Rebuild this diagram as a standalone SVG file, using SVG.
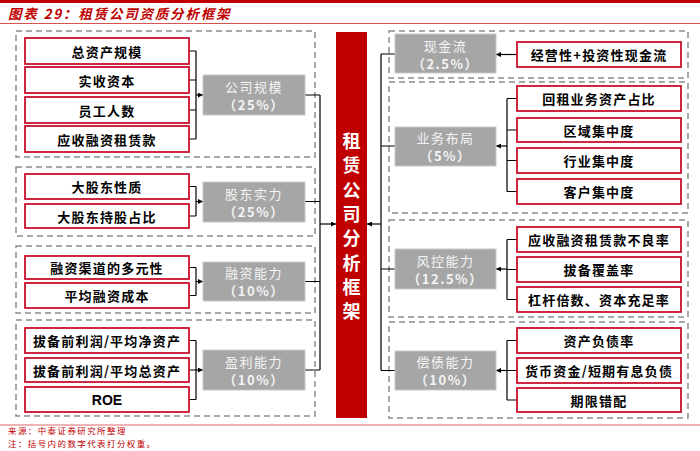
<svg xmlns="http://www.w3.org/2000/svg" width="700" height="451" viewBox="0 0 700 451">
<defs>
<marker id="ah" viewBox="0 0 6 6" refX="6" refY="3" markerWidth="5" markerHeight="5" orient="auto" markerUnits="userSpaceOnUse">
<path d="M0,0 L6,3 L0,6 z" fill="#000"/>
</marker>
<style>
.dash{fill:none;stroke:#8c8c8c;stroke-width:1.5;stroke-dasharray:6 4}
.rb{fill:#fff;stroke:#c8102e;stroke-width:1.8}
.gb{fill:#a6a6a6;stroke:#c9c9c9;stroke-width:1}
.t{font-family:"Noto Sans CJK SC","Noto Sans",sans-serif;font-size:13px;font-weight:bold;fill:#000;text-anchor:middle;dominant-baseline:central;letter-spacing:1.2px}
.g{font-family:"Noto Sans CJK SC","Noto Sans",sans-serif;font-size:13px;fill:#f4f4f4;text-anchor:middle;dominant-baseline:central;letter-spacing:1.5px}
.gp{font-weight:bold}
.ln{fill:none;stroke:#000;stroke-width:1.2}
.ar{fill:none;stroke:#000;stroke-width:1.2;marker-end:url(#ah)}
.c{font-family:"Noto Sans CJK SC",sans-serif;font-size:18px;font-weight:bold;fill:#fff;text-anchor:middle;dominant-baseline:central}
.ft{font-family:"Noto Sans CJK SC",sans-serif;font-size:8.5px;fill:#c00000;letter-spacing:1.4px}
</style>
</defs>
<rect x="0" y="0" width="700" height="451" fill="#fff"/>
<!-- header -->
<rect x="0" y="0" width="700" height="3" fill="#c00000"/>
<text x="8" y="19" font-family="'Noto Sans CJK SC',sans-serif" font-size="13.5" font-weight="bold" font-style="italic" fill="#c00000" letter-spacing="1.8">图表 29：租赁公司资质分析框架</text>
<line x1="0" y1="23.5" x2="700" y2="23.5" stroke="#d9534f" stroke-width="1"/>

<!-- dashed groups -->
<g id="groups">
<rect class="dash" x="16" y="31" width="299" height="126"/>
<rect class="dash" x="16" y="167" width="299" height="69"/>
<rect class="dash" x="16" y="246" width="299" height="67"/>
<rect class="dash" x="16" y="320" width="299" height="96"/>
<rect class="dash" x="389" y="31" width="299" height="47"/>
<rect class="dash" x="389" y="82" width="299" height="131"/>
<rect class="dash" x="389" y="220" width="299" height="97"/>
<rect class="dash" x="389" y="322" width="299" height="96"/>
</g>

<!-- connectors -->
<g id="connectors">
<path class="ln" d="M189,51 H196 M189,80 H196 M189,110 H196 M189,139 H196 M196,51 V139"/>
<path class="ar" d="M196,95 H203"/>
<path class="ln" d="M189,186.5 H196 M189,216 H196 M196,186.5 V216"/>
<path class="ar" d="M196,201.5 H203"/>
<path class="ln" d="M189,267.5 H196 M189,295.5 H196 M196,267.5 V295.5"/>
<path class="ar" d="M196,281.5 H203"/>
<path class="ln" d="M189,340.5 H196 M189,370 H196 M189,399.5 H196 M196,340.5 V399.5"/>
<path class="ar" d="M196,370 H203"/>
<path class="ln" d="M305,95 H320 M305,201.5 H320 M305,281.5 H320 M305,370 H320 M320,95 V370"/>
<path class="ar" d="M320,224 H336"/>
<path class="ln" d="M395,54 H381 M395,146 H381 M395,269 H381 M395,370.5 H381 M381,54 V370.5"/>
<path class="ar" d="M381,224 H367"/>
<path class="ar" d="M517,54.5 H496"/>
<path class="ln" d="M517,98.5 H507 M517,130 H507 M517,160.5 H507 M517,191.5 H507 M507,98.5 V191.5"/>
<path class="ar" d="M507,146 H496"/>
<path class="ln" d="M517,239.5 H507 M517,269.5 H507 M517,299.5 H507 M507,239.5 V299.5"/>
<path class="ar" d="M507,269 H496"/>
<path class="ln" d="M517,340.5 H507 M517,370.5 H507 M517,400 H507 M507,340.5 V400"/>
<path class="ar" d="M507,370.5 H496"/>
</g>

<!-- center -->
<g id="center">
<rect x="336" y="32" width="31" height="386" fill="#c00000"/>
<text class="c" x="351.5" y="140">租</text>
<text class="c" x="351.5" y="164">赁</text>
<text class="c" x="351.5" y="189">公</text>
<text class="c" x="351.5" y="213">司</text>
<text class="c" x="351.5" y="237">分</text>
<text class="c" x="351.5" y="262">析</text>
<text class="c" x="351.5" y="286">框</text>
<text class="c" x="351.5" y="310">架</text>
</g>

<!-- left nodes -->
<g id="n-zongzichan"><rect class="rb" x="25" y="38" width="164" height="26"/><text class="t" x="107" y="51">总资产规模</text></g>
<g id="n-shishou"><rect class="rb" x="25" y="67" width="164" height="26"/><text class="t" x="107" y="80">实收资本</text></g>
<g id="n-yuangong"><rect class="rb" x="25" y="97" width="164" height="26"/><text class="t" x="107" y="110">员工人数</text></g>
<g id="n-yingshou"><rect class="rb" x="25" y="126" width="164" height="26"/><text class="t" x="107" y="139">应收融资租赁款</text></g>
<g id="n-gongsiguimo"><rect class="gb" x="203" y="75" width="102" height="40"/><text class="g" x="254" y="86">公司规模</text><text class="g gp" x="254" y="104">（25%）</text></g>

<g id="n-xingzhi"><rect class="rb" x="25" y="174" width="164" height="25"/><text class="t" x="107" y="186.5">大股东性质</text></g>
<g id="n-chigu"><rect class="rb" x="25" y="204" width="164" height="24"/><text class="t" x="107" y="216">大股东持股占比</text></g>
<g id="n-gudong"><rect class="gb" x="203" y="182" width="102" height="40"/><text class="g" x="254" y="193">股东实力</text><text class="g gp" x="254" y="211">（25%）</text></g>

<g id="n-qudao"><rect class="rb" x="25" y="256" width="164" height="23"/><text class="t" x="107" y="267.5">融资渠道的多元性</text></g>
<g id="n-chengben"><rect class="rb" x="25" y="283" width="164" height="25"/><text class="t" x="107" y="295.5">平均融资成本</text></g>
<g id="n-rongzi"><rect class="gb" x="203" y="262" width="102" height="39"/><text class="g" x="254" y="272.5">融资能力</text><text class="g gp" x="254" y="290.5">（10%）</text></g>

<g id="n-jingzichan"><rect class="rb" x="25" y="328" width="164" height="25"/><text class="t" x="107" y="340.5">拔备前利润/平均净资产</text></g>
<g id="n-zongzichan2"><rect class="rb" x="25" y="358" width="164" height="24"/><text class="t" x="107" y="370">拔备前利润/平均总资产</text></g>
<g id="n-roe"><rect class="rb" x="25" y="387" width="164" height="25"/><text class="t" x="107" y="399.5" style="font-family:'Liberation Sans',Arial,sans-serif;font-size:14px;letter-spacing:0">ROE</text></g>
<g id="n-yingli"><rect class="gb" x="203" y="350" width="102" height="40"/><text class="g" x="254" y="361">盈利能力</text><text class="g gp" x="254" y="379">（10%）</text></g>

<!-- right nodes -->
<g id="n-xianjinliu"><rect class="gb" x="395" y="34" width="101" height="39"/><text class="g" x="445.5" y="45">现金流</text><text class="g gp" x="445.5" y="63">（2.5%）</text></g>
<g id="n-jingying"><rect class="rb" x="517" y="42" width="164" height="25"/><text class="t" x="599" y="54.5">经营性+投资性现金流</text></g>

<g id="n-yewu"><rect class="gb" x="395" y="127" width="101" height="39"/><text class="g" x="445.5" y="137.5">业务布局</text><text class="g gp" x="445.5" y="155.5">（5%）</text></g>
<g id="n-huizu"><rect class="rb" x="517" y="86" width="164" height="25"/><text class="t" x="599" y="98.5">回租业务资产占比</text></g>
<g id="n-quyu"><rect class="rb" x="517" y="118" width="164" height="24"/><text class="t" x="599" y="130">区域集中度</text></g>
<g id="n-hangye"><rect class="rb" x="517" y="148" width="164" height="25"/><text class="t" x="599" y="160.5">行业集中度</text></g>
<g id="n-kehu"><rect class="rb" x="517" y="179" width="164" height="25"/><text class="t" x="599" y="191.5">客户集中度</text></g>

<g id="n-fengkong"><rect class="gb" x="395" y="249" width="101" height="40"/><text class="g" x="445.5" y="260">风控能力</text><text class="g gp" x="445.5" y="278">（12.5%）</text></g>
<g id="n-buliang"><rect class="rb" x="517" y="227" width="164" height="25"/><text class="t" x="599" y="239.5">应收融资租赁款不良率</text></g>
<g id="n-bobei"><rect class="rb" x="517" y="257" width="164" height="25"/><text class="t" x="599" y="269.5">拔备覆盖率</text></g>
<g id="n-ganggan"><rect class="rb" x="517" y="287" width="164" height="25"/><text class="t" x="599" y="299.5">杠杆倍数、资本充足率</text></g>

<g id="n-changzhai"><rect class="gb" x="395" y="351" width="101" height="39"/><text class="g" x="445.5" y="361.5">偿债能力</text><text class="g gp" x="445.5" y="379.5">（10%）</text></g>
<g id="n-fuzhai"><rect class="rb" x="517" y="328" width="164" height="25"/><text class="t" x="599" y="340.5">资产负债率</text></g>
<g id="n-huobi"><rect class="rb" x="517" y="358" width="164" height="25"/><text class="t" x="599" y="370.5">货币资金/短期有息负债</text></g>
<g id="n-qixian"><rect class="rb" x="517" y="388" width="164" height="24"/><text class="t" x="599" y="400">期限错配</text></g>

<!-- footer -->
<line x1="0" y1="425" x2="700" y2="425" stroke="#e06666" stroke-width="1"/>
<text class="ft" x="8" y="433.5">来源：中泰证券研究所整理</text>
<text class="ft" x="8" y="446.5">注：括号内的数字代表打分权重。</text>
</svg>
